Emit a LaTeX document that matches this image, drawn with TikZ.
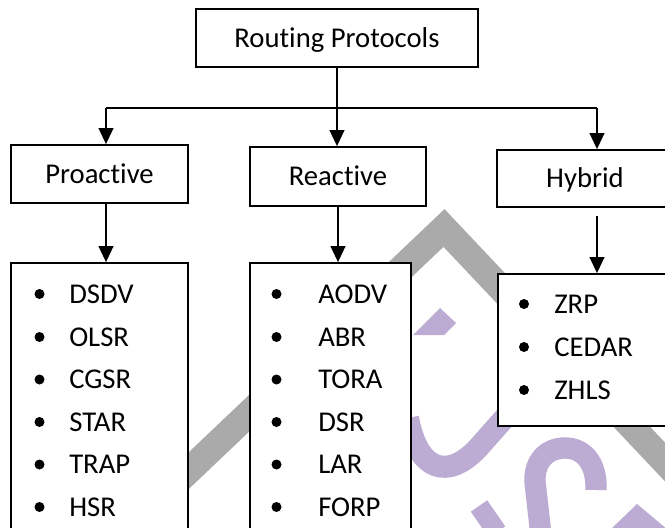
\documentclass[tikz,border=0pt]{standalone}
\usepackage{fontspec}
\setmainfont{Carlito}[Ligatures={NoCommon}]
\usepackage{tikz}
\usetikzlibrary{arrows.meta}
\definecolor{wmgray}{RGB}{170,170,170}
\definecolor{wmpurple}{RGB}{188,171,210}

\begin{document}
\begin{tikzpicture}[x=0.75pt, y=-0.75pt,
  box/.style={draw=black, fill=white, line width=1.3pt, inner sep=0pt, text height=13.9pt, text depth=0pt, font=\fontsize{21.5}{26}\selectfont},
  item/.style={anchor=west, inner sep=0pt, text height=13.9pt, text depth=0pt, font=\fontsize{21.5}{26}\selectfont},
  dot/.style={circle, fill=black, inner sep=0pt, minimum size=7.5pt},
  arr/.style={line width=1.4pt, -{Triangle[length=12pt, width=11pt]}}]
  \useasboundingbox (0,0) rectangle (665,528);
  \clip (0,0) rectangle (665,528);
  \draw[wmgray, line width=20pt] (140,517) -- (444,228) -- (700,499);
  \fill[wmpurple] (413,335) -- (440,308) -- (456,323) -- (444,335) -- cycle;
  \draw[wmpurple, line width=16.5pt] (408,418) .. controls (418,472) and (448,480) .. (478,448) -- (525,395);
  \draw[wmpurple, line width=16pt] (596,490) .. controls (597,462) and (583,448) .. (565,448) .. controls (546,448) and (534,462) .. (535,482) -- (541,535);
  \draw[wmpurple, line width=15pt] (479,506) -- (497,532);
  \fill[wmpurple] (610,530) -- (637,504) -- (668,530) -- cycle;
  \node[box, minimum width=211.5pt, minimum height=43.5pt] (root) at (337,38) {Routing Protocols};
  \node[box, minimum width=132.75pt, minimum height=43.5pt] (pro) at (99.5,174) {Proactive};
  \node[box, minimum width=132pt, minimum height=44.25pt] (rea) at (338,176.5) {Reactive};
  \node[box, minimum width=132pt, minimum height=42.75pt] (hyb) at (585,178.5) {Hybrid};
  \node[box, minimum width=132.75pt, minimum height=222.75pt] (plist) at (99.5,411.5) {};
  \node[box, minimum width=120.75pt, minimum height=222.75pt] (rlist) at (330.5,411.5) {};
  \node[box, minimum width=131.25pt, minimum height=114pt] (hlist) at (585.5,350) {};
  \node[dot] (dsdvdot) at (39.5,294) {};
  \node[item] (dsdv) at (69,294) {DSDV};
  \node[dot] (olsrdot) at (39.5,337) {};
  \node[item] (olsr) at (69,337) {OLSR};
  \node[dot] (cgsrdot) at (39.5,379.5) {};
  \node[item] (cgsr) at (69,379.5) {CGSR};
  \node[dot] (stardot) at (39.5,422) {};
  \node[item] (star) at (69,422) {STAR};
  \node[dot] (trapdot) at (39.5,464.5) {};
  \node[item] (trap) at (69,464.5) {TRAP};
  \node[dot] (hsrdot) at (39.5,507) {};
  \node[item] (hsr) at (69,507) {HSR};
  \node[dot] (aodvdot) at (276.5,294) {};
  \node[item] (aodv) at (318,294) {AODV};
  \node[dot] (abrdot) at (276.5,337) {};
  \node[item] (abr) at (318,337) {ABR};
  \node[dot] (toradot) at (276.5,379.5) {};
  \node[item] (tora) at (318,379.5) {TORA};
  \node[dot] (dsrdot) at (276.5,422) {};
  \node[item] (dsr) at (318,422) {DSR};
  \node[dot] (lardot) at (276.5,464.5) {};
  \node[item] (lar) at (318,464.5) {LAR};
  \node[dot] (forpdot) at (276.5,507) {};
  \node[item] (forp) at (318,507) {FORP};
  \node[dot] (zrpdot) at (524,304) {};
  \node[item] (zrp) at (554,304) {ZRP};
  \node[dot] (cedardot) at (524,347) {};
  \node[item] (cedar) at (554,347) {CEDAR};
  \node[dot] (zhlsdot) at (524,390) {};
  \node[item] (zhls) at (554,390) {ZHLS};
  \coordinate (jpro) at (106,108);
  \coordinate (jhyb) at (597,108);
  \draw[line width=1.2pt] (jpro) -- (jhyb);
  \draw[arr] (root.south) -- (root.south |- rea.north);
  \draw[arr] (jpro) -- (jpro |- pro.north);
  \draw[arr] (jhyb) -- (jhyb |- hyb.north);
  \draw[arr] (jpro |- pro.south) -- (jpro |- plist.north);
  \draw[arr] (rea.south) -- (rea.south |- rlist.north);
  \draw[arr, shorten <=6pt] (jhyb |- hyb.south) -- (jhyb |- hlist.north);
\end{tikzpicture}
\end{document}
